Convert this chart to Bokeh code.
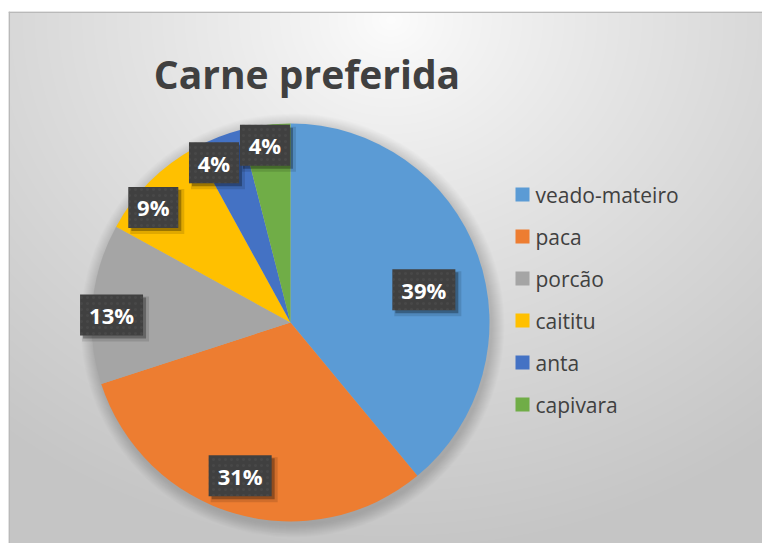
import numpy as np
from bokeh.plotting import figure
from bokeh.models import Range1d
from bokeh.core.properties import value
from bokeh.embed import file_html
from bokeh.resources import INLINE

# ---- data ----
categories = ["veado-mateiro", "paca", "porcão", "caititu", "anta", "capivara"]
shares = [39, 31, 13, 9, 4, 4]
pct_labels = ["39%", "31%", "13%", "9%", "4%", "4%"]
colors = ["#5B9BD5", "#ED7D31", "#A5A5A5", "#FFC000", "#4472C4", "#70AD47"]
title_text = "Carne preferida"

# ---- layout (pixel-like data units) ----
W, H = 762, 543
LB, TB = 8, 11
FW, FH = W - LB, H - TB
cx, cy, R = 282, 221, 199
label_rfrac = [0.69, 0.81, 0.90, 0.90, 0.89, 0.90]
label_nudge_deg = [6, 2, -3, -5, -4, -1]

p = figure(width=W, height=H, x_range=Range1d(0, FW), y_range=Range1d(0, FH),
           output_backend="svg", toolbar_location=None,
           x_axis_location=None, y_axis_location=None,
           min_border_left=LB, min_border_right=0, min_border_bottom=0, min_border_top=TB,
           border_fill_color="white")
p.grid.visible = False
p.outline_line_color = None

# background gradient (style)
jj, ii = np.meshgrid(np.arange(FW), np.arange(FH))
sx = LB + jj
sy = H - ii
d = np.sqrt((sx - 390.0) ** 2 + ((sy - 20.0) * 1.15) ** 2)
g = (253 - 56 * np.clip(d / 620.0, 0, 1) ** 0.85).astype(np.uint8)
img = np.empty((FH, FW), dtype=np.uint32)
view = img.view(dtype=np.uint8).reshape((FH, FW, 4))
view[:, :, 0] = g
view[:, :, 1] = g
view[:, :, 2] = g
view[:, :, 3] = 255
p.image_rgba(image=[img], x=0, y=0, dw=FW, dh=FH)

# border (top and left)
p.segment(x0=[0, 0.75], y0=[FH - 0.75, 0], x1=[FW, 0.75], y1=[FH - 0.75, FH],
          line_color="#b9b9b9", line_width=1.5)

# pie soft shadow
for k in range(1, 14):
    p.circle(x=[cx + 2], y=[cy - 3], radius=R + k, fill_color="black",
             fill_alpha=0.011, line_color=None)

# pie
fr = np.array(shares, dtype=float) / sum(shares)
cum = np.cumsum(fr)
start_frac = cum - fr
start_angle = np.pi / 2 - 2 * np.pi * start_frac
end_angle = np.pi / 2 - 2 * np.pi * cum
p.wedge(x=cx, y=cy, radius=R, start_angle=list(start_angle), end_angle=list(end_angle),
        direction="clock", fill_color=colors, line_color=None)

# data labels
mid = (start_frac + fr / 2) * 360 + np.array(label_nudge_deg)
th = np.radians(mid)
rr = np.array(label_rfrac) * R
lx = cx + rr * np.sin(th)
ly = cy + rr * np.cos(th)
bw = [13 * len(s) + 24 for s in pct_labels]
p.rect(x=list(lx + 4), y=list(ly - 4), width=[w + 4 for w in bw], height=45,
       fill_color="black", fill_alpha=0.12, line_color=None)
p.rect(x=list(lx + 3), y=list(ly - 3), width=bw, height=41,
       fill_color="black", fill_alpha=0.3, line_color=None)
p.rect(x=list(lx), y=list(ly), width=bw, height=41, fill_color="#404040",
       line_color=None, hatch_pattern="dot", hatch_color="#555555",
       hatch_scale=6, hatch_alpha=0.35)
p.text(x=list(lx), y=list(ly), text=pct_labels, text_align="center",
       text_baseline="middle", text_font=value("Open Sans"), text_font_style="bold",
       text_font_size="22px", text_color="white")

# title
p.text(x=[298.5], y=[470], text=[title_text], text_align="center",
       text_baseline="alphabetic", text_font=value("Open Sans"),
       text_font_style="bold", text_font_size="39px", text_color="#404040")

# legend
n = len(categories)
leg_y = [349 - 42 * i for i in range(n)]
p.rect(x=[514] * n, y=leg_y, width=14, height=14, fill_color=colors, line_color=None)
p.text(x=[527] * n, y=leg_y, text=categories, text_align="left",
       text_baseline="middle", text_font=value("Open Sans"),
       text_font_size="21px", text_color="#404040")

open("out.html", "w").write(file_html(p, INLINE))
